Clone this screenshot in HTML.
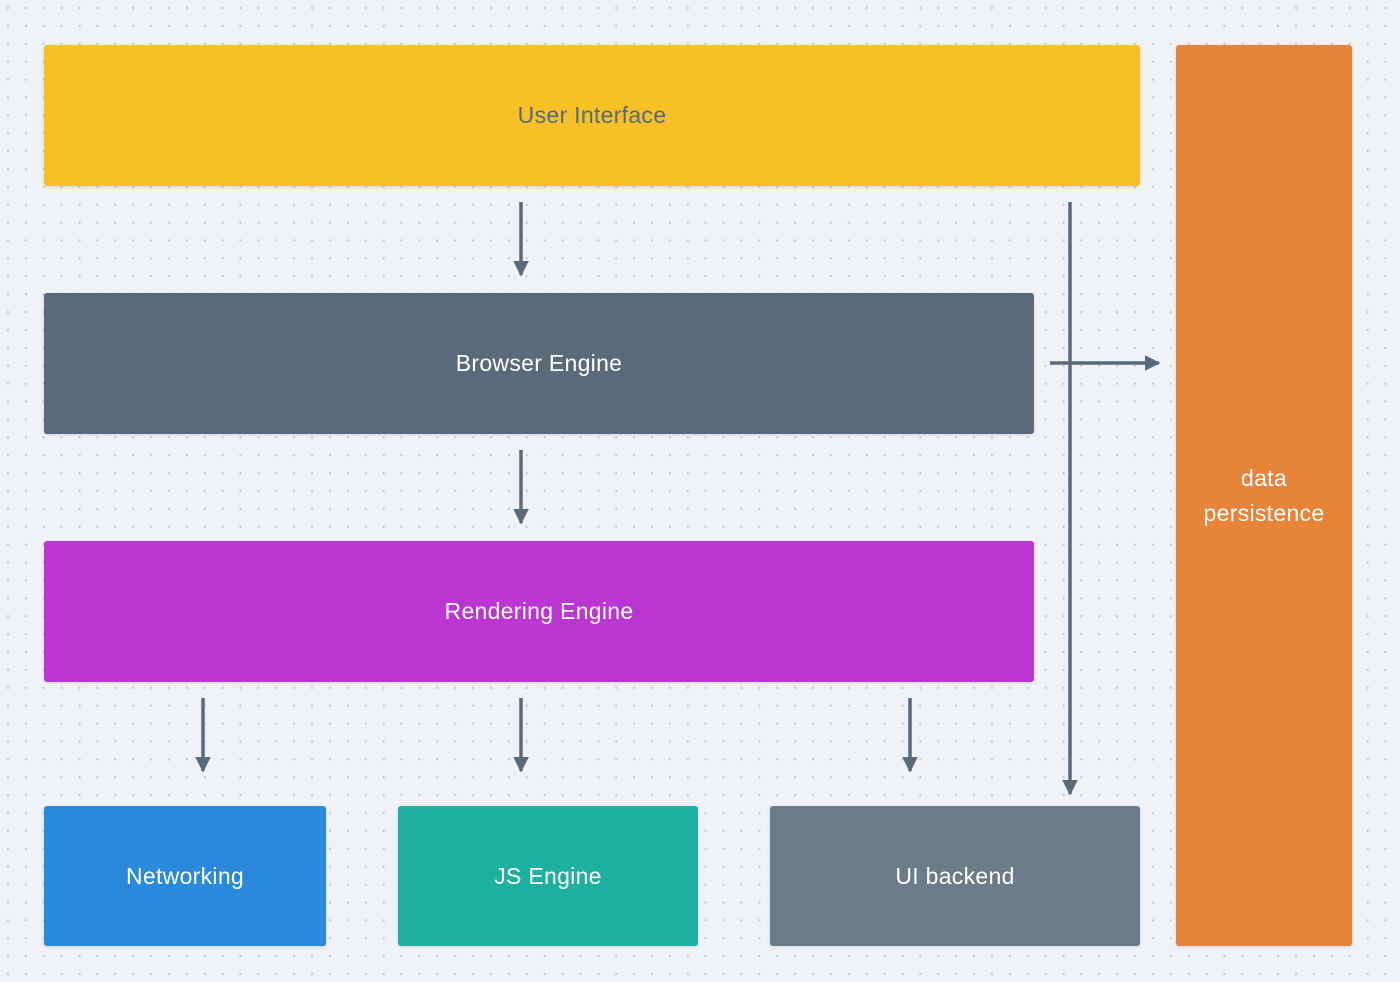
<!DOCTYPE html>
<html><head><style>
html,body{margin:0;padding:0}
body{width:1400px;height:982px;background:#eff2f6;position:relative;overflow:hidden;
background-image:radial-gradient(circle,#c9ced6 1.1px,transparent 1.4px);background-size:17.9px 17.9px;background-position:-1px -1px;
font-family:"Liberation Sans",sans-serif}
.b{position:absolute;display:flex;align-items:center;justify-content:center;text-align:center;color:#fff;font-size:23px;border-radius:3px;box-shadow:0 1px 3px rgba(0,0,0,.12);line-height:35px;letter-spacing:0.3px}
svg{position:absolute;left:0;top:0}
</style></head><body>
<div class="b" style="left:44px;top:45px;width:1096px;height:141px;background:#f6c126;color:#5a6a7a">User Interface</div>
<div class="b" style="left:44px;top:293px;width:990px;height:141px;background:#5a6a7a">Browser Engine</div>
<div class="b" style="left:44px;top:541px;width:990px;height:141px;background:#bb35d3">Rendering Engine</div>
<div class="b" style="left:44px;top:806px;width:282px;height:140px;background:#2b89db">Networking</div>
<div class="b" style="left:398px;top:806px;width:300px;height:140px;background:#1db09f">JS Engine</div>
<div class="b" style="left:770px;top:806px;width:370px;height:140px;background:#6d7a88">UI backend</div>
<div class="b" style="left:1176px;top:45px;width:176px;height:901px;background:#e8843a">data<br>persistence</div>
<svg width="1400" height="982">
<defs><marker id="a" viewBox="0 0 10 10" refX="9" refY="5" markerWidth="4.5" markerHeight="4.5" orient="auto"><path d="M0,0L10,5L0,10z" fill="#5a6a7a"/></marker></defs>
<g stroke="#5a6a7a" stroke-width="3.5" fill="none" marker-end="url(#a)">
<line x1="521" y1="202" x2="521" y2="275"/>
<line x1="521" y1="450" x2="521" y2="523"/>
<line x1="203" y1="698" x2="203" y2="771"/>
<line x1="521" y1="698" x2="521" y2="771"/>
<line x1="910" y1="698" x2="910" y2="771"/>
<line x1="1070" y1="202" x2="1070" y2="794"/>
<line x1="1050" y1="363" x2="1159" y2="363"/>
</g></svg>
</body></html>
